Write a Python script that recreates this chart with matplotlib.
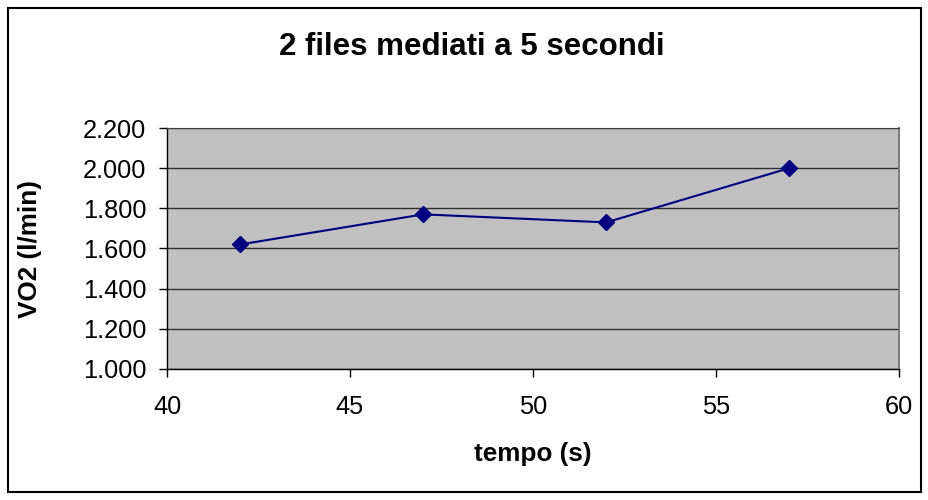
import matplotlib.pyplot as plt
from matplotlib.ticker import FuncFormatter
from matplotlib.patches import Rectangle

# data
tempo = [42, 47, 52, 57]
vo2 = [1.62, 1.77, 1.73, 2.00]

x_ticks = [40, 45, 50, 55, 60]
y_ticks = [1.0, 1.2, 1.4, 1.6, 1.8, 2.0, 2.2]

plt.rcParams['font.family'] = ['Liberation Sans', 'DejaVu Sans']

fig = plt.figure(figsize=(9.29, 5.0), dpi=100)
ax = fig.add_axes([167 / 929, 1 - 369 / 500, (899 - 167) / 929, (369 - 128) / 500])

# outer chart border
fig.patches.append(Rectangle((8 / 929, 8 / 500), (921 - 8) / 929, (492 - 8) / 500,
                             transform=fig.transFigure, fill=False,
                             edgecolor='black', linewidth=1.5))

ax.set_facecolor('#c0c0c0')
ax.plot(tempo, vo2, color='#000080', linewidth=1.5, marker='D', markersize=8,
        markerfacecolor='#000080', markeredgecolor='#000080', zorder=3)

ax.set_xlim(40, 60)
ax.set_ylim(1.0, 2.2)
ax.set_xticks(x_ticks)
ax.set_yticks(y_ticks)
ax.yaxis.set_major_formatter(FuncFormatter(lambda v, p: f"{v:.3f}"))
ax.grid(axis='y', color='#303030', linewidth=1)
ax.set_axisbelow(True)

for side in ['left', 'bottom']:
    ax.spines[side].set_color('black')
    ax.spines[side].set_linewidth(1)
ax.spines['top'].set_color('#404040')
ax.spines['right'].set_color('#808080')
ax.spines['right'].set_linewidth(1.5)

ax.tick_params(axis='both', direction='out', length=6, width=1, labelsize=18.3, color='black')
ax.tick_params(axis='x', pad=12.5)
ax.tick_params(axis='y', pad=9)

fig.text(471.5 / 929, 1 - 47 / 500, '2 files mediati a 5 secondi', fontsize=22.5,
         fontweight='bold', ha='center', va='center')
fig.text(533 / 929, 1 - 454 / 500, 'tempo (s)', fontsize=18.8, fontweight='bold',
         ha='center', va='center')
fig.text(30 / 929, 1 - 249 / 500, 'VO2 (l/min)', fontsize=18.8, fontweight='bold',
         ha='center', va='center', rotation=90)

fig.savefig('out.png', dpi=100)
